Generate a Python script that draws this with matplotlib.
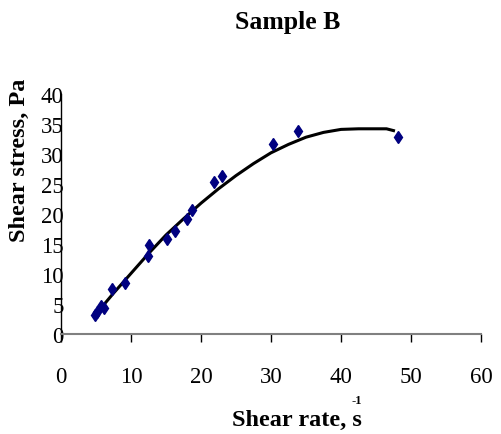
import matplotlib
matplotlib.use("Agg")
import matplotlib.pyplot as plt

# measured points (shear rate, shear stress)
rate = [4.9, 5.2, 5.7, 6.1, 7.3, 9.2, 12.4, 12.6, 15.1, 16.3, 18.0, 18.7,
        21.9, 23.0, 30.3, 33.9, 48.1]
stress = [3.2, 3.7, 4.7, 4.4, 7.5, 8.5, 13.0, 14.8, 15.9, 17.1, 19.2, 20.7,
          25.3, 26.4, 31.6, 33.9, 32.8]

# trend line
trend_x = [4.9, 7.5, 10, 12.5, 15, 17.5, 20, 22.5, 25, 27.5, 30, 32.5,
           35, 37.5, 40, 42.5, 45, 46.5, 47.5]
trend_y = [3.2, 6.8, 10.1, 13.4, 16.5, 19.2, 21.8, 24.2, 26.4, 28.4, 30.2,
           31.6, 32.8, 33.6, 34.1, 34.2, 34.2, 34.2, 33.9]

x_ticks = [0, 10, 20, 30, 40, 50, 60]
y_ticks = [0, 5, 10, 15, 20, 25, 30, 35, 40]

plt.rcParams['font.family'] = ['Liberation Serif', 'DejaVu Serif']

W, H = 502, 435
fig = plt.figure(figsize=(W / 100, H / 100), dpi=100)
ax = fig.add_axes([61 / W, 1 - 335 / H, 420 / W, 240 / H])

ax.plot(trend_x, trend_y, color='black', lw=2.2, zorder=2)
ax.plot(rate, stress, linestyle='none', marker='d', color='#000080',
        markersize=6.5, zorder=3)

ax.set_xlim(0, 60)
ax.set_ylim(0, 40)
ax.set_xticks(x_ticks)
ax.set_yticks(y_ticks)

for s in ['top', 'right']:
    ax.spines[s].set_visible(False)
ax.spines['bottom'].set_color('#808080')
ax.spines['bottom'].set_linewidth(1.5)
ax.spines['left'].set_color('black')
ax.spines['left'].set_linewidth(1.0)

ax.tick_params(axis='x', direction='out', length=6, width=1, color='black',
               pad=17, labelsize=16.5)
ax.tick_params(axis='y', length=0, pad=-2, labelsize=16.5)

fig.text(287.5 / W, 1 - 23 / H, 'Sample B', ha='center', va='center',
         fontsize=18.5, fontweight='bold')
fig.text(297 / W, 1 - 426 / H, 'Shear rate, s', ha='center', va='baseline',
         fontsize=17.5, fontweight='bold')
fig.text(357 / W, 1 - 401 / H, '-1', ha='center', va='center',
         fontsize=9, fontweight='bold')
fig.text(19.5 / W, 1 - 160 / H, 'Shear stress, Pa', ha='center', va='center',
         rotation=90, fontsize=17.5, fontweight='bold')

fig.savefig('out.png', dpi=100)
